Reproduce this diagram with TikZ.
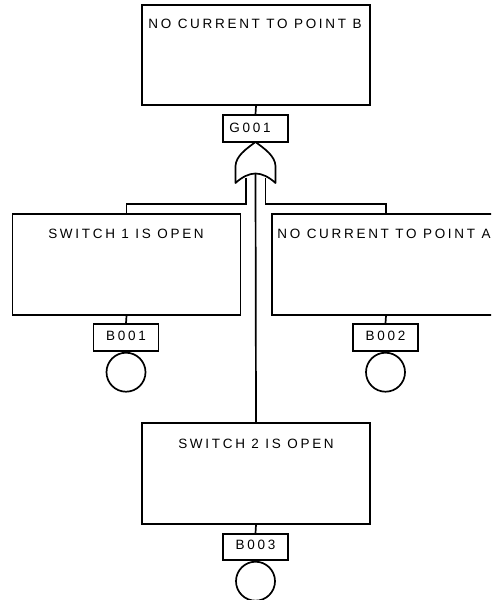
\documentclass[tikz,border=0pt]{standalone}
\usepackage{fontspec}
\newfontfamily\labfont[LetterSpace=20]{Liberation Sans}
\begin{document}
\begin{tikzpicture}[x=1pt,y=-1pt,line width=1.7pt,
  evbox/.style={draw,rectangle,inner sep=0pt,minimum width=228pt,minimum height=101pt},
  idbox/.style={draw,rectangle,inner sep=0pt,minimum width=65pt,minimum height=27pt},
  basic/.style={draw,circle,inner sep=0pt,minimum size=39pt},
  txt/.style={anchor=base,inner sep=0pt,font=\labfont\fontsize{13.5}{16}\selectfont}]
\clip (0,0) rectangle (491,600);
% top event
\node[evbox,minimum height=100pt] (top) at (256,55) {};
\node[txt] (topt) at (255,28) {NO CURRENT TO POINT B};
\node[idbox] (g001) at (255.5,128.5) {};
\node[txt] (g001t) at (250,132) {G001};
% OR gate
\draw[line join=round] (255.5,142) .. controls (246,149) and (236,156) .. (235.5,166) -- (235.5,183)
  .. controls (242,177) and (249,173.5) .. (255.5,173.5)
  .. controls (262,173.5) and (269,177) .. (275.5,183) -- (275.5,166)
  .. controls (275,156) and (265,149) .. (255.5,142) -- cycle;
\coordinate (gL) at (246,177.5);
\coordinate (gC) at (255.5,173.5);
\coordinate (gR) at (265.5,177.5);
% left branch
\node[evbox] (s1) at (126.5,264.5) {};
\node[txt] (s1t) at (126,238) {SWITCH 1 IS OPEN};
\node[idbox] (b001) at (126,337.5) {};
\node[txt] (b001t) at (126,340) {B001};
\node[basic,anchor=north] (c1) at (b001.south) {};
% right branch
\node[evbox] (sA) at (386,264.5) {};
\node[txt] (sAt) at (384,238) {NO CURRENT TO POINT A};
\node[idbox] (b002) at (385.5,337.5) {};
\node[txt] (b002t) at (385.5,340) {B002};
\node[basic,anchor=north] (c2) at (b002.south) {};
% bottom branch
\node[evbox] (s2) at (256,473.5) {};
\node[txt] (s2t) at (256,448) {SWITCH 2 IS OPEN};
\node[idbox,minimum height=26pt] (b003) at (255.5,547) {};
\node[txt] (b003t) at (255.5,549) {B003};
\node[basic,anchor=north] (c3) at (b003.south) {};
% connectors
\draw (top.south) -- (g001.north);
\draw (gL) |- ([yshift=9pt]s1.north) -- (s1.north);
\draw (gR) |- ([yshift=9pt]sA.north) -- (sA.north);
\draw (gC) -- (s2.north);
\draw (s1.south) -- (b001.north);
\draw (sA.south) -- (b002.north);
\draw (s2.south) -- (b003.north);
\end{tikzpicture}
\end{document}
